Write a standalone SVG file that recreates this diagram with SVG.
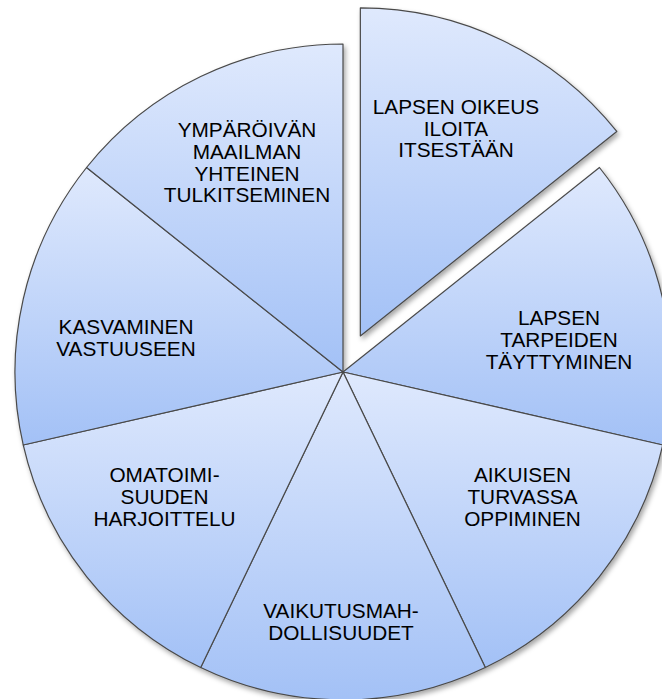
<svg xmlns="http://www.w3.org/2000/svg" width="662" height="699" viewBox="0 0 662 699">
<defs>
<linearGradient id="g" x1="0" y1="0" x2="0" y2="1">
<stop offset="0" stop-color="#dfe9fd"/>
<stop offset="1" stop-color="#a3c1f6"/>
</linearGradient>
<filter id="sh" x="-10%" y="-10%" width="120%" height="120%">
<feDropShadow dx="2" dy="3" stdDeviation="2.5" flood-color="#000" flood-opacity="0.35"/>
</filter>
<style>
.s{fill:url(#g);stroke:#4a4a4a;stroke-width:1.2;stroke-linejoin:round}
.t{font-family:"Liberation Sans",Arial,sans-serif;font-size:20.8px;fill:#000;text-anchor:middle}
</style>
</defs>
<rect width="662" height="699" fill="#fff"/>
<g filter="url(#sh)">
<g id="slice-oikeus">
<path class="s" d="M360.35,335.96 L360.35,7.96 A328,328 0 0 1 616.79,131.46 Z"/>
</g>
<g id="slice-tarpeiden">
<path class="s" d="M343,372 L599.44,167.5 A328,328 0 0 1 662.78,444.99 Z"/>
</g>
<g id="slice-aikuisen">
<path class="s" d="M343,372 L662.78,444.99 A328,328 0 0 1 485.31,667.52 Z"/>
</g>
<g id="slice-vaikutus">
<path class="s" d="M343,372 L485.31,667.52 A328,328 0 0 1 200.69,667.52 Z"/>
</g>
<g id="slice-omatoimi">
<path class="s" d="M343,372 L200.69,667.52 A328,328 0 0 1 23.22,444.99 Z"/>
</g>
<g id="slice-kasvaminen">
<path class="s" d="M343,372 L23.22,444.99 A328,328 0 0 1 86.56,167.5 Z"/>
</g>
<g id="slice-ymparoivan">
<path class="s" d="M343,372 L86.56,167.5 A328,328 0 0 1 343,44 Z"/>
</g>
</g>
<g id="labels">
<text class="t" x="456" y="113.5">LAPSEN OIKEUS</text>
<text class="t" x="456" y="135.5">ILOITA</text>
<text class="t" x="456" y="157">ITSESTÄÄN</text>
<text class="t" x="559" y="325">LAPSEN</text>
<text class="t" x="559" y="347">TARPEIDEN</text>
<text class="t" x="559" y="368.5">TÄYTTYMINEN</text>
<text class="t" x="522.5" y="482">AIKUISEN</text>
<text class="t" x="522.5" y="504">TURVASSA</text>
<text class="t" x="522.5" y="526">OPPIMINEN</text>
<text class="t" x="341" y="618">VAIKUTUSMAH-</text>
<text class="t" x="341" y="640">DOLLISUUDET</text>
<text class="t" x="164.5" y="482">OMATOIMI-</text>
<text class="t" x="164.5" y="504">SUUDEN</text>
<text class="t" x="164.5" y="526">HARJOITTELU</text>
<text class="t" x="126" y="333.5">KASVAMINEN</text>
<text class="t" x="126" y="355.5">VASTUUSEEN</text>
<text class="t" x="247" y="137">YMPÄRÖIVÄN</text>
<text class="t" x="247" y="159">MAAILMAN</text>
<text class="t" x="247" y="180.5">YHTEINEN</text>
<text class="t" x="247" y="202">TULKITSEMINEN</text>
</g>
</svg>
